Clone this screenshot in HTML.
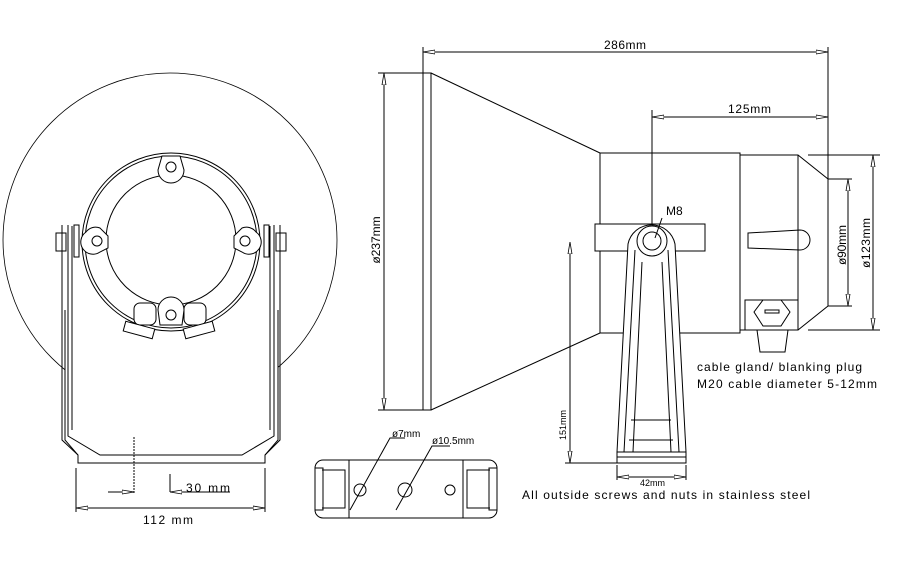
<!DOCTYPE html>
<html><head><meta charset="utf-8"><style>
html,body{margin:0;padding:0;background:#fff}
svg{display:block}
text{font-family:"Liberation Sans",sans-serif;fill:#000}
</style></head><body>
<svg width="908" height="571" viewBox="0 0 908 571" xmlns="http://www.w3.org/2000/svg">
<defs>
<marker id="a" markerWidth="12" markerHeight="6" refX="12" refY="3" orient="auto-start-reverse" markerUnits="userSpaceOnUse"><path d="M0,1 L12,3 L0,5 Z" fill="#fff" stroke="#000" stroke-width="0.8"/></marker>
</defs>
<g fill="none" stroke="#000" stroke-width="1">
<!-- LEFT VIEW -->
<circle cx="170" cy="240" r="167" stroke-width="0.8"/>
<path d="M65,310 L65,440 L78,455 L78,463 L265,463 L265,455 L278,440 L278,310" fill="#fff"/>
<circle cx="171" cy="242" r="89" fill="#fff"/>
<circle cx="171" cy="242" r="86"/>
<circle cx="171" cy="240" r="65"/>
<path d="M62,225 L62,440 L78,455 M280,225 L280,440 L265,455"/>
<path d="M68,225 L68,436 L100,455 L242,455 L274,436 L274,225"/>
<path d="M72,226 L72,430 M270,226 L270,430"/>
<rect x="56" y="233" width="10" height="18"/>
<rect x="276" y="233" width="10" height="18"/>
<rect x="74" y="225" width="5" height="32"/>
<rect x="264" y="225" width="5" height="32"/>
<g fill="#fff">
<path d="M162,156 L180,156 L184,170 A12,12 0 0 1 158,170 Z"/>
<path d="M86,232 A12,12 0 0 1 100,228 L108,236 L108,248 L100,252 A12,12 0 0 1 86,232Z"/>
<path d="M256,232 A12,12 0 0 0 242,228 L234,236 L234,248 L242,252 A12,12 0 0 0 256,232Z"/>
<rect x="134" y="303" width="22" height="22" rx="6"/>
<rect x="184" y="303" width="22" height="22" rx="6"/>
<rect x="124" y="325" width="30" height="10" transform="rotate(15 139 330)"/>
<rect x="184" y="325" width="30" height="10" transform="rotate(-15 199 330)"/>
<path d="M160,325 L182,325 L184,310 A13,13 0 0 0 158,310 Z"/>
</g>
<circle cx="171" cy="167" r="5"/><circle cx="97" cy="241" r="5"/><circle cx="245" cy="241" r="5"/><circle cx="171" cy="315" r="5"/>
<path d="M134,437 L134,493" stroke-dasharray="2,1"/>
<path d="M76,468 L76,512 M265,468 L265,512"/>
<line x1="76" y1="508" x2="265" y2="508" marker-start="url(#a)" marker-end="url(#a)"/>
<line x1="108" y1="492" x2="134" y2="492" marker-end="url(#a)"/>
<path d="M170,474 L170,492"/>
<line x1="230" y1="492" x2="170" y2="492" marker-end="url(#a)"/>
<!-- HORN -->
<line x1="423" y1="52" x2="828" y2="52" marker-start="url(#a)" marker-end="url(#a)"/>
<path d="M423,47 L423,410 M828,47 L828,179"/>
<rect x="423" y="73" width="8" height="337"/>
<path d="M431,73 L600,153 M431,410 L600,333"/>
<line x1="384" y1="73" x2="384" y2="410" marker-start="url(#a)" marker-end="url(#a)"/>
<path d="M378,73 L423,73 M378,410 L423,410"/>
<rect x="600" y="153" width="140" height="180"/>
<path d="M740,155 L798,155 L828,179 L828,306 L798,330 L740,330 Z"/>
<path d="M798,155 L798,330"/>
<path d="M808,155 L880,155 M808,330 L880,330 M828,179 L852,179 M828,306 L852,306"/>
<line x1="873" y1="155" x2="873" y2="330" marker-start="url(#a)" marker-end="url(#a)"/>
<line x1="848" y1="179" x2="848" y2="306" marker-start="url(#a)" marker-end="url(#a)"/>
<line x1="652" y1="117" x2="828" y2="117" marker-start="url(#a)" marker-end="url(#a)"/>
<path d="M652,110 L652,250"/>
<path d="M748,233 L800,230 A10,10 0 0 1 800,250 L748,248 Z"/>
<rect x="745" y="300" width="53" height="30"/>
<path d="M763,300 L781,300 L790,312 L781,326 L763,326 L754,312 Z"/>
<path d="M757,330 L788,330 L785,352 L760,352 Z"/>
<rect x="765" y="310" width="14" height="3"/>
<rect x="595" y="224" width="110" height="27" fill="#fff"/>
<path d="M628,244 L617,452 L686,452 L675,244 A24,24 0 0 0 628,244Z" fill="#fff"/>
<path d="M635,250 L624,452 M668,250 L679,452 M642,262 L633,452 M662,262 L671,452 M631,420 L671,420 M629,440 L673,440"/>
<circle cx="652" cy="241" r="15"/><circle cx="652" cy="241" r="9"/>
<rect x="617" y="452" width="69" height="11"/>
<path d="M617,457 L686,457"/>
<line x1="570" y1="242" x2="570" y2="463" marker-start="url(#a)" marker-end="url(#a)"/>
<path d="M565,463 L617,463 M617,465 L617,480 M686,465 L686,480"/>
<line x1="617" y1="477" x2="686" y2="477" marker-start="url(#a)" marker-end="url(#a)"/>
<path d="M655,238 L662,218"/>
<!-- BOTTOM VIEW -->
<rect x="315" y="460" width="182" height="58" rx="8" fill="#fff"/>
<path d="M349,460 L349,518 M463,460 L463,518"/>
<path d="M322,470 L345,470 L345,508 L322,508 M490,470 L467,470 L467,508 L490,508"/>
<rect x="315" y="468" width="8" height="42"/><rect x="489" y="468" width="8" height="42"/>
<circle cx="360" cy="490" r="6"/><circle cx="405" cy="490" r="7"/><circle cx="450" cy="490" r="5"/>
<path d="M350,510 L390,438 L405,438 M396,510 L432,446 L450,446"/>
</g>
<g font-size="12">
<text x="186" y="492" textLength="44">30 mm</text>
<text x="143" y="524" textLength="50">112 mm</text>
<text x="604" y="49" textLength="42">286mm</text>
<text x="728" y="113" textLength="43">125mm</text>
<text x="666" y="215">M8</text>
<text transform="translate(380,240) rotate(-90)" text-anchor="middle">ø237mm</text>
<text transform="translate(846,245) rotate(-90)" text-anchor="middle" textLength="40">ø90mm</text>
<text transform="translate(870,243) rotate(-90)" text-anchor="middle" textLength="50">ø123mm</text>
<text transform="translate(566,425) rotate(-90)" text-anchor="middle" font-size="9">151mm</text>
<text x="640" y="486" font-size="9">42mm</text>
<text x="697" y="371" textLength="165">cable gland/ blanking plug</text>
<text x="697" y="388" textLength="180">M20 cable diameter 5-12mm</text>
<text x="522" y="499" textLength="288">All outside screws and nuts in stainless steel</text>
<text x="392" y="437" font-size="10">ø7mm</text>
<text x="432" y="444" font-size="10">ø10.5mm</text>
</g>
</svg>
</body></html>
